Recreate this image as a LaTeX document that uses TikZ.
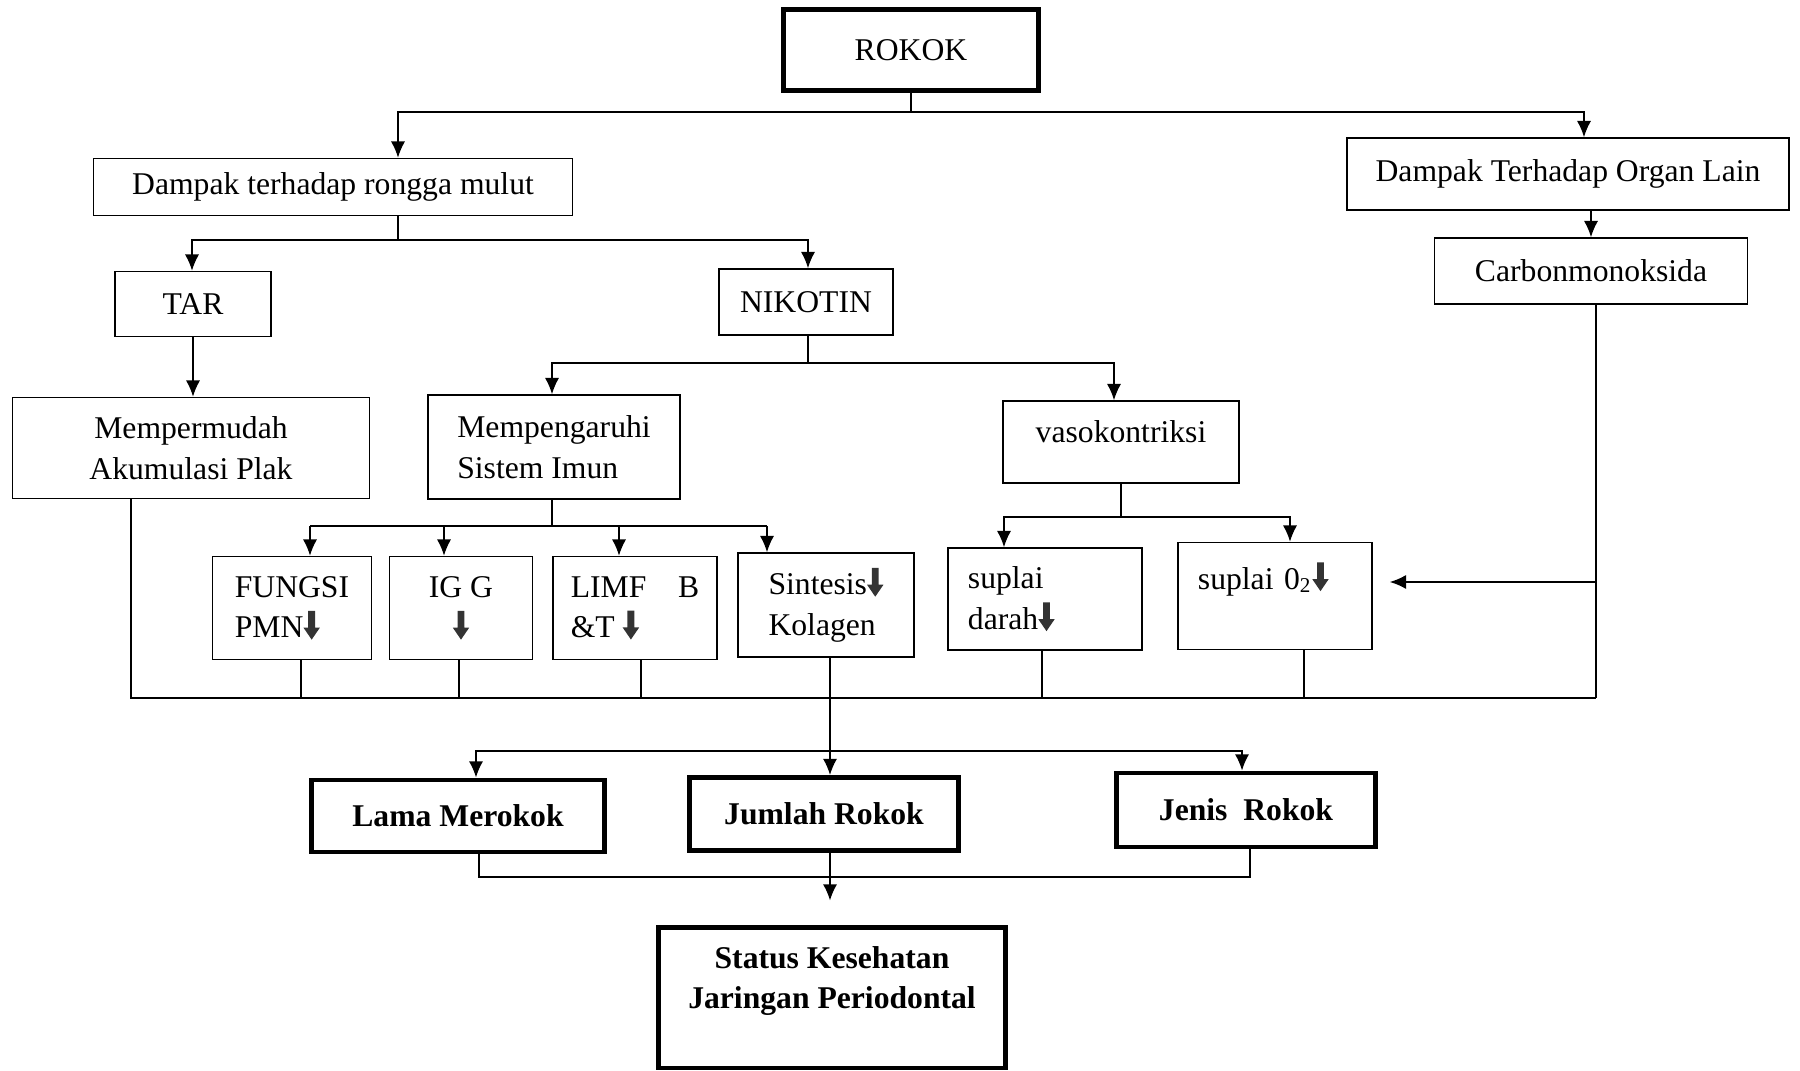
\documentclass[tikz,border=0pt]{standalone}
\usepackage{fontspec}
\setmainfont{Liberation Serif}
\usetikzlibrary{arrows.meta}
\newcommand{\turun}{\tikz[baseline=0pt, x=1em, y=1em] \fill[black!80] (-0.11,0.85) -- (0.11,0.85) -- (0.11,0.32) -- (0.26,0.32) -- (0,-0.06) -- (-0.26,0.32) -- (-0.11,0.32) -- cycle;}
\tikzset{
    kotak/.style={draw, line width=0.45pt, inner sep=2pt, align=center, font=\fontsize{9}{11.5}\selectfont},
    kotaktebal/.style={kotak, line width=1.4pt, font=\fontsize{9}{11.5}\selectfont\bfseries},
    >={Latex[length=4.6pt, width=4pt]},
}
\begin{document}
\begin{tikzpicture}[x=0.01cm, y=-0.01cm]
        \useasboundingbox (0,0) rectangle (1800,1071);
        % kotak-kotak
        \node[kotak, line width=1.2pt, minimum width=2.55cm, minimum height=0.81cm] (rokok) at (911,50) {ROKOK};
        \node[kotak, minimum width=4.79cm, minimum height=0.57cm] (rongga) at (333,187) {Dampak terhadap rongga mulut};
        \node[kotak, minimum width=4.42cm, minimum height=0.72cm] (organ) at (1568,174) {Dampak Terhadap Organ Lain};
        \node[kotak, minimum width=3.13cm, minimum height=0.66cm] (carbon) at (1591,271) {Carbonmonoksida};
        \node[kotak, minimum width=1.56cm, minimum height=0.65cm] (tar) at (193,304) {TAR};
        \node[kotak, minimum width=1.74cm, minimum height=0.66cm] (nikotin) at (806,302) {NIKOTIN};
        \node[kotak, minimum width=3.57cm, minimum height=1.01cm] (plak) at (191,448) {Mempermudah\\Akumulasi Plak};
        \node[kotak, align=left, minimum width=2.52cm, minimum height=1.04cm] (imun) at (554,447) {Mempengaruhi\\Sistem Imun};
        \node[kotak, minimum width=2.36cm, minimum height=0.82cm] (vaso) at (1121,442) {vasokontriksi\\[-5.5pt]\mbox{}};
        \node[kotak, align=left, minimum width=1.59cm, minimum height=1.03cm] (pmn) at (292,608) {FUNGSI\\PMN\turun};
        \node[kotak, minimum width=1.43cm, minimum height=1.03cm] (igg) at (461,608) {IG G\\\turun};
        \node[kotak, align=left, minimum width=1.64cm, minimum height=1.03cm] (limf) at (635,608) {LIMF\quad B\\\&T \turun};
        \node[kotak, align=left, minimum width=1.76cm, minimum height=1.04cm] (kolagen) at (826,605) {Sintesis\turun\\Kolagen};
        \node[kotak, align=left, text width=1.54cm, inner xsep=0.2cm, minimum height=1.02cm] (darah) at (1045,599) {suplai\\darah\turun};
        \node[kotak, align=left, text width=1.54cm, inner xsep=0.2cm, minimum height=1.07cm] (oksigen) at (1275,596) {suplai 0\textsubscript{2}\turun\\\mbox{}};
        \node[kotaktebal, minimum width=2.93cm, minimum height=0.72cm] (lama) at (458,816) {Lama Merokok};
        \node[kotaktebal, minimum width=2.69cm, minimum height=0.73cm] (jumlah) at (824,814) {Jumlah Rokok};
        \node[kotaktebal, minimum width=2.59cm, minimum height=0.74cm] (jenis) at (1246,810) {Jenis\ \ Rokok};
        \node[kotaktebal, minimum width=3.47cm, minimum height=1.40cm] (status) at (832,998) {Status Kesehatan\\Jaringan Periodontal\\\mbox{}};
        % titik cabang
        \coordinate (r1) at (398,112);
        \coordinate (r2) at (1584,112);
        \coordinate (m1) at (192,240);
        \coordinate (m2) at (808,240);
        \coordinate (n1) at (552,363);
        \coordinate (n2) at (1114,363);
        \coordinate (i1) at (310,526);
        \coordinate (i4) at (767,526);
        \coordinate (v1) at (1004,517);
        \coordinate (v2) at (1290,517);
        \coordinate (k0) at (1596,582);
        \coordinate (k1) at (1596,698);
        \coordinate (k2) at (131,698);
        \coordinate (s0) at (830,751);
        \coordinate (s1) at (476,751);
        \coordinate (s2) at (1242,751);
        \coordinate (t1) at (479,877);
        \coordinate (t2) at (1250,877);
        % garis penghubung
        \draw (rokok.south) -- (rokok.south |- r1);
        \draw[<->] (r1 |- rongga.north) -- (r1) -- (r2) -- (r2 |- organ.north);
        \draw[->] (carbon.north |- organ.south) -- (carbon.north);
        \draw (rongga.south -| r1) -- (r1 |- m1);
        \draw[<->] (m1 |- tar.north) -- (m1) -- (m2) -- (m2 |- nikotin.north);
        \draw[->] (tar.south) -- (tar.south |- plak.north);
        \draw (nikotin.south -| m2) -- (m2 |- n1);
        \draw[<->] (n1 |- imun.north) -- (n1) -- (n2) -- (n2 |- vaso.north);
        \draw (imun.south -| n1) -- (n1 |- i1);
        \draw (i1) -- (i4);
        \foreach \xx/\kk in {310/pmn, 444/igg, 619/limf, 767/kolagen}
            \draw[->] (\xx,0 |- i1) -- (\xx,0 |- \kk.north);
        \draw (vaso.south) -- (vaso.south |- v1);
        \draw[<->] (v1 |- darah.north) -- (v1) -- (v2) -- (v2 |- oksigen.north);
        \draw (carbon.south -| k1) -- (k1);
        \draw[->, shorten >=0.17cm] (k0) -- (oksigen.east |- k0);
        \draw (plak.south -| k2) -- (k2) -- (k1);
        \foreach \xx/\kk in {301/pmn, 459/igg, 641/limf, 1042/darah, 1304/oksigen}
            \draw (\xx,0 |- \kk.south) -- (\xx,0 |- k1);
        \draw[->] (kolagen.south -| s0) -- (s0 |- jumlah.north);
        \draw[<->] (s1 |- lama.north) -- (s1) -- (s2) -- (s2 |- jenis.north);
        \draw (lama.south -| t1) -- (t1) -- (t2) -- (jenis.south -| t2);
        \draw[->, shorten >=0.25cm] (jumlah.south -| s0) -- (status.north -| s0);
\end{tikzpicture}
\end{document}
